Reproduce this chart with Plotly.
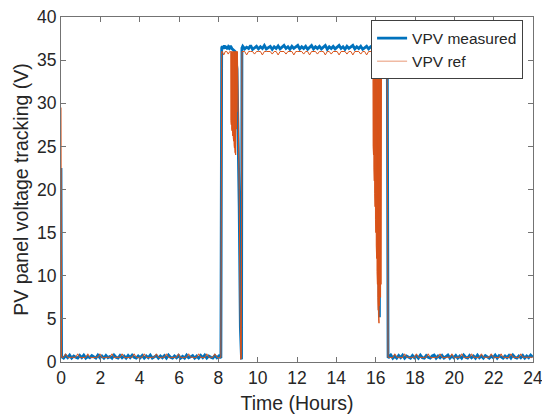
import numpy as np
import plotly.graph_objects as go

# ---------------- data ----------------
# measured PV voltage (V)
meas_start_t = [0.0]
meas_start_v = [22.5]
meas_low_a = [0.6,0.45,0.75,0.5,0.8,0.45,0.7,0.55,0.45,0.75,
              0.5,0.8,0.45,0.65,0.5,0.75,0.55,0.45,0.8,0.5,
              0.7,0.45,0.75,0.5,0.65,0.45,0.8,0.55,0.45,0.75,
              0.5,0.7,0.45,0.75,0.5,0.8,0.55,0.45,0.7,0.5,
              0.75,0.45,0.7,0.5,0.8,0.45,0.6,0.75,0.45,0.7,
              0.5,0.75,0.45,0.8,0.55,0.45,0.7,0.5,0.75,0.45,
              0.65,0.45,0.8,0.5,0.6,0.75,0.45,0.7,0.45,0.75,
              0.5,0.8,0.45,0.7,0.55,0.45,0.75,0.5,0.7,0.45]
meas_rise_t = [8.17]
meas_rise_v = [36.4]
meas_high_b = [36.6,36.3,36.7,36.35,36.6,36.25,36.55,36.4,36.65]
meas_trans1_t = [8.70, 8.85, 8.95, 9.00, 9.06, 9.12, 9.15, 9.18, 9.20]
meas_trans1_v = [36.3, 36.0, 34.0, 28.0, 18.0, 4.0, 0.3, 0.3, 36.4]
meas_high_c = [36.6,36.3,36.5,36.35,36.7,36.25,36.45,36.6,36.3,36.55,
               36.35,36.7,36.3,36.5,36.6,36.25,36.55,36.35,36.65,36.3,
               36.45,36.7,36.35,36.55,36.25,36.6,36.35,36.5,36.7,36.3,
               36.55,36.35,36.6,36.25,36.45,36.7,36.3,36.55,36.35,36.6,
               36.3,36.5,36.7,36.25,36.55,36.35,36.6,36.3,36.45,36.7,
               36.35,36.55,36.25,36.6,36.35,36.5,36.7,36.3,36.55,36.35,
               36.6,36.25,36.45,36.6,36.3,36.55,36.4]
meas_trans2_t = [15.90, 16.00, 16.08, 16.14, 16.19, 16.22]
meas_trans2_v = [35.5, 32.0, 24.0, 14.0, 5.2, 36.4]
meas_high_e = [36.6,36.3,36.65,36.35,36.5]
meas_drop_t = [16.63]
meas_drop_v = [0.6]
meas_low_d = [0.55,0.8,0.45,0.7,0.45,0.75,0.5,0.8,0.45,0.7,
              0.55,0.45,0.75,0.5,0.7,0.45,0.8,0.5,0.45,0.75,
              0.55,0.45,0.7,0.8,0.45,0.7,0.5,0.75,0.45,0.6,
              0.8,0.45,0.7,0.5,0.75,0.45,0.7,0.45,0.8,0.55,
              0.45,0.75,0.5,0.7,0.45,0.8,0.5,0.7,0.45,0.75,
              0.55,0.45,0.7,0.5,0.8,0.45,0.75,0.55,0.45,0.7,
              0.5,0.75,0.45,0.8,0.55,0.45,0.7,0.5,0.75,0.45,
              0.7,0.5,0.8,0.55]

# reference PV voltage (V)
ref_start_t = [0.0]
ref_start_v = [29.5]
ref_low_a = [0.55,0.55,0.95,0.55,0.5,0.55,0.55,0.55,0.95,0.55,
             0.5,0.55,0.55,0.95,0.55,0.5,0.55,0.55,0.55,0.95,
             0.55,0.5,0.55,0.55,0.55,0.95,0.5,0.55,0.55,0.55,
             0.95,0.55,0.5,0.55,0.55,0.55,0.95,0.55,0.5,0.55,
             0.55,0.95,0.55,0.5,0.55,0.55,0.55,0.95,0.55,0.5,
             0.55,0.55,0.95,0.55,0.5,0.55,0.55,0.55,0.95,0.55,
             0.5,0.55,0.55,0.95,0.55,0.55,0.5,0.55,0.95,0.55,
             0.55,0.5,0.95,0.55,0.55,0.55,0.95,0.55,0.5,0.55]
ref_rise_t = [8.17]
ref_rise_v = [36.0]
ref_high_b = [36.0,35.6,36.0,36.0,35.7,36.0]
ref_dense1 = [36.0,28.0,36.0,27.5,36.0,27.0,36.0,26.8,36.0,26.5,
              36.0,26.2,36.0,26.0,36.0,25.6,36.0,25.2,36.0,24.8,
              36.0,24.5,36.0,24.2,36.0,24.0,36.0,25.0,36.0,27.0,
              36.0,29.0,36.0,31.0,36.0]
ref_fall1_t = [9.00, 9.06, 9.10, 9.14, 9.17, 9.20]
ref_fall1_v = [32.0, 20.0, 8.0, 0.3, 0.4, 36.0]
ref_high_c = [36.0,36.0,35.6,36.0,36.0,36.0,35.7,36.0,36.0,36.0,
              35.6,36.0,36.0,36.0,36.0,35.7,36.0,36.0,35.6,36.0,
              36.0,36.0,35.7,36.0,36.0,36.0,35.6,36.0,36.0,36.0,
              36.0,35.7,36.0,36.0,35.6,36.0,36.0,36.0,35.7,36.0,
              36.0,36.0,35.6,36.0,36.0,35.7,36.0,36.0,36.0,35.6,
              36.0,36.0,36.0,35.7,36.0,36.0,35.6,36.0,36.0,36.0,
              35.7,36.0,36.0,35.6,36.0,36.0,36.0]
ref_dense2 = [36.0,25.0,36.0,24.0,36.0,22.5,36.0,21.0,36.0,19.5,
              36.0,18.0,36.0,16.5,36.0,15.0,36.0,13.5,36.0,12.0,
              36.0,10.5,36.0,9.0,36.0,7.5,36.0,6.0,36.0,5.0,
              36.0,4.5,36.0,6.5,36.0,7.0,36.0,8.0,36.0,7.5,
              36.0,9.0,36.0,10.0,36.0]
ref_high_e = [36.0,35.7,36.0]
ref_drop_t = [16.63]
ref_drop_v = [0.55]
ref_low_d = [0.55,0.55,0.5,0.95,0.55,0.55,0.55,0.5,0.95,0.55,
             0.55,0.5,0.55,0.55,0.95,0.55,0.55,0.5,0.55,0.55,
             0.95,0.55,0.5,0.55,0.55,0.55,0.95,0.55,0.5,0.55,
             0.55,0.55,0.95,0.5,0.55,0.55,0.55,0.95,0.55,0.5,
             0.55,0.55,0.95,0.55,0.55,0.5,0.55,0.95,0.55,0.55,
             0.5,0.55,0.95,0.55,0.55,0.55,0.5,0.95,0.55,0.55,
             0.55,0.5,0.95,0.55,0.55,0.55,0.5,0.95,0.55,0.55,
             0.55,0.5,0.55,0.55]

x_ticks = list(range(0, 25, 2))
y_ticks = list(range(0, 41, 5))

# ---------------- time grids ----------------
meas_t = np.concatenate([
    meas_start_t,
    np.linspace(0.03, 8.13, len(meas_low_a)),
    meas_rise_t,
    np.linspace(8.20, 8.62, len(meas_high_b)),
    meas_trans1_t,
    np.linspace(9.24, 15.84, len(meas_high_c)),
    meas_trans2_t,
    np.linspace(16.27, 16.59, len(meas_high_e)),
    meas_drop_t,
    np.linspace(16.67, 23.98, len(meas_low_d)),
])
meas_v = np.concatenate([meas_start_v, meas_low_a, meas_rise_v, meas_high_b,
                         meas_trans1_v, meas_high_c, meas_trans2_v, meas_high_e,
                         meas_drop_v, meas_low_d])

dense1_t = np.linspace(8.63, 8.97, len(ref_dense1))
dense2_t = np.linspace(15.86, 16.30, len(ref_dense2))
ref_t = np.concatenate([
    ref_start_t,
    np.linspace(0.03, 8.13, len(ref_low_a)),
    ref_rise_t,
    np.linspace(8.20, 8.58, len(ref_high_b)),
    dense1_t,
    ref_fall1_t,
    np.linspace(9.24, 15.84, len(ref_high_c)),
    dense2_t,
    np.linspace(16.36, 16.58, len(ref_high_e)),
    ref_drop_t,
    np.linspace(16.67, 23.98, len(ref_low_d)),
])
ref_v = np.concatenate([ref_start_v, ref_low_a, ref_rise_v, ref_high_b, ref_dense1,
                        ref_fall1_v, ref_high_c, ref_dense2, ref_high_e,
                        ref_drop_v, ref_low_d])

BLUE = "#0072BD"
ORANGE = "#D95319"
AXIS = "#737373"
TXT = "#262626"

fig = go.Figure()
fig.add_trace(go.Scatter(x=meas_t, y=meas_v, mode="lines", name="VPV measured",
                         line=dict(color=BLUE, width=2.8)))
fig.add_trace(go.Scatter(x=ref_t, y=ref_v, mode="lines", name="VPV ref",
                         showlegend=False, legendgroup="ref",
                         line=dict(color=ORANGE, width=1)))
# legend entry for the reference (thin, light, as drawn in the original legend)
fig.add_trace(go.Scatter(x=[None], y=[None], mode="lines", name="VPV ref",
                         legendgroup="ref",
                         line=dict(color="rgba(217,83,25,0.4)", width=1.5)))

axis_common = dict(showgrid=False, zeroline=False, showline=True, mirror="ticks",
                   linecolor=AXIS, linewidth=1, ticks="inside", ticklen=5,
                   tickcolor=AXIS, tickwidth=1, ticklabeloverflow="allow",
                   automargin=False, tickfont=dict(size=17.5, color=TXT))
fig.update_xaxes(range=[0, 24], tickvals=x_ticks,
                 title=dict(text="Time (Hours)", font=dict(size=19.5, color=TXT), standoff=9),
                 **axis_common)
fig.update_yaxes(range=[0, 40], tickvals=y_ticks,
                 title=dict(text="PV panel voltage tracking (V)", font=dict(size=19.5, color=TXT), standoff=3),
                 **axis_common)

# plot box at x 61..533, y 17..362 of the 542x420 window
fig.update_layout(
    width=542, height=420,
    margin=dict(l=61, r=9, t=17, b=58),
    paper_bgcolor="white", plot_bgcolor="white",
    font=dict(family="Liberation Sans, Arial, sans-serif", color=TXT),
    legend=dict(x=0.979, y=0.99, xanchor="right", yanchor="top",
                bgcolor="white", bordercolor="#404040", borderwidth=1,
                font=dict(size=15.5), tracegroupgap=0),
    showlegend=True,
)

fig.write_html("out.html",
               config={"displayModeBar": False},
               post_script="document.body.style.margin='0px';"
                           "document.body.style.overflow='hidden';")
